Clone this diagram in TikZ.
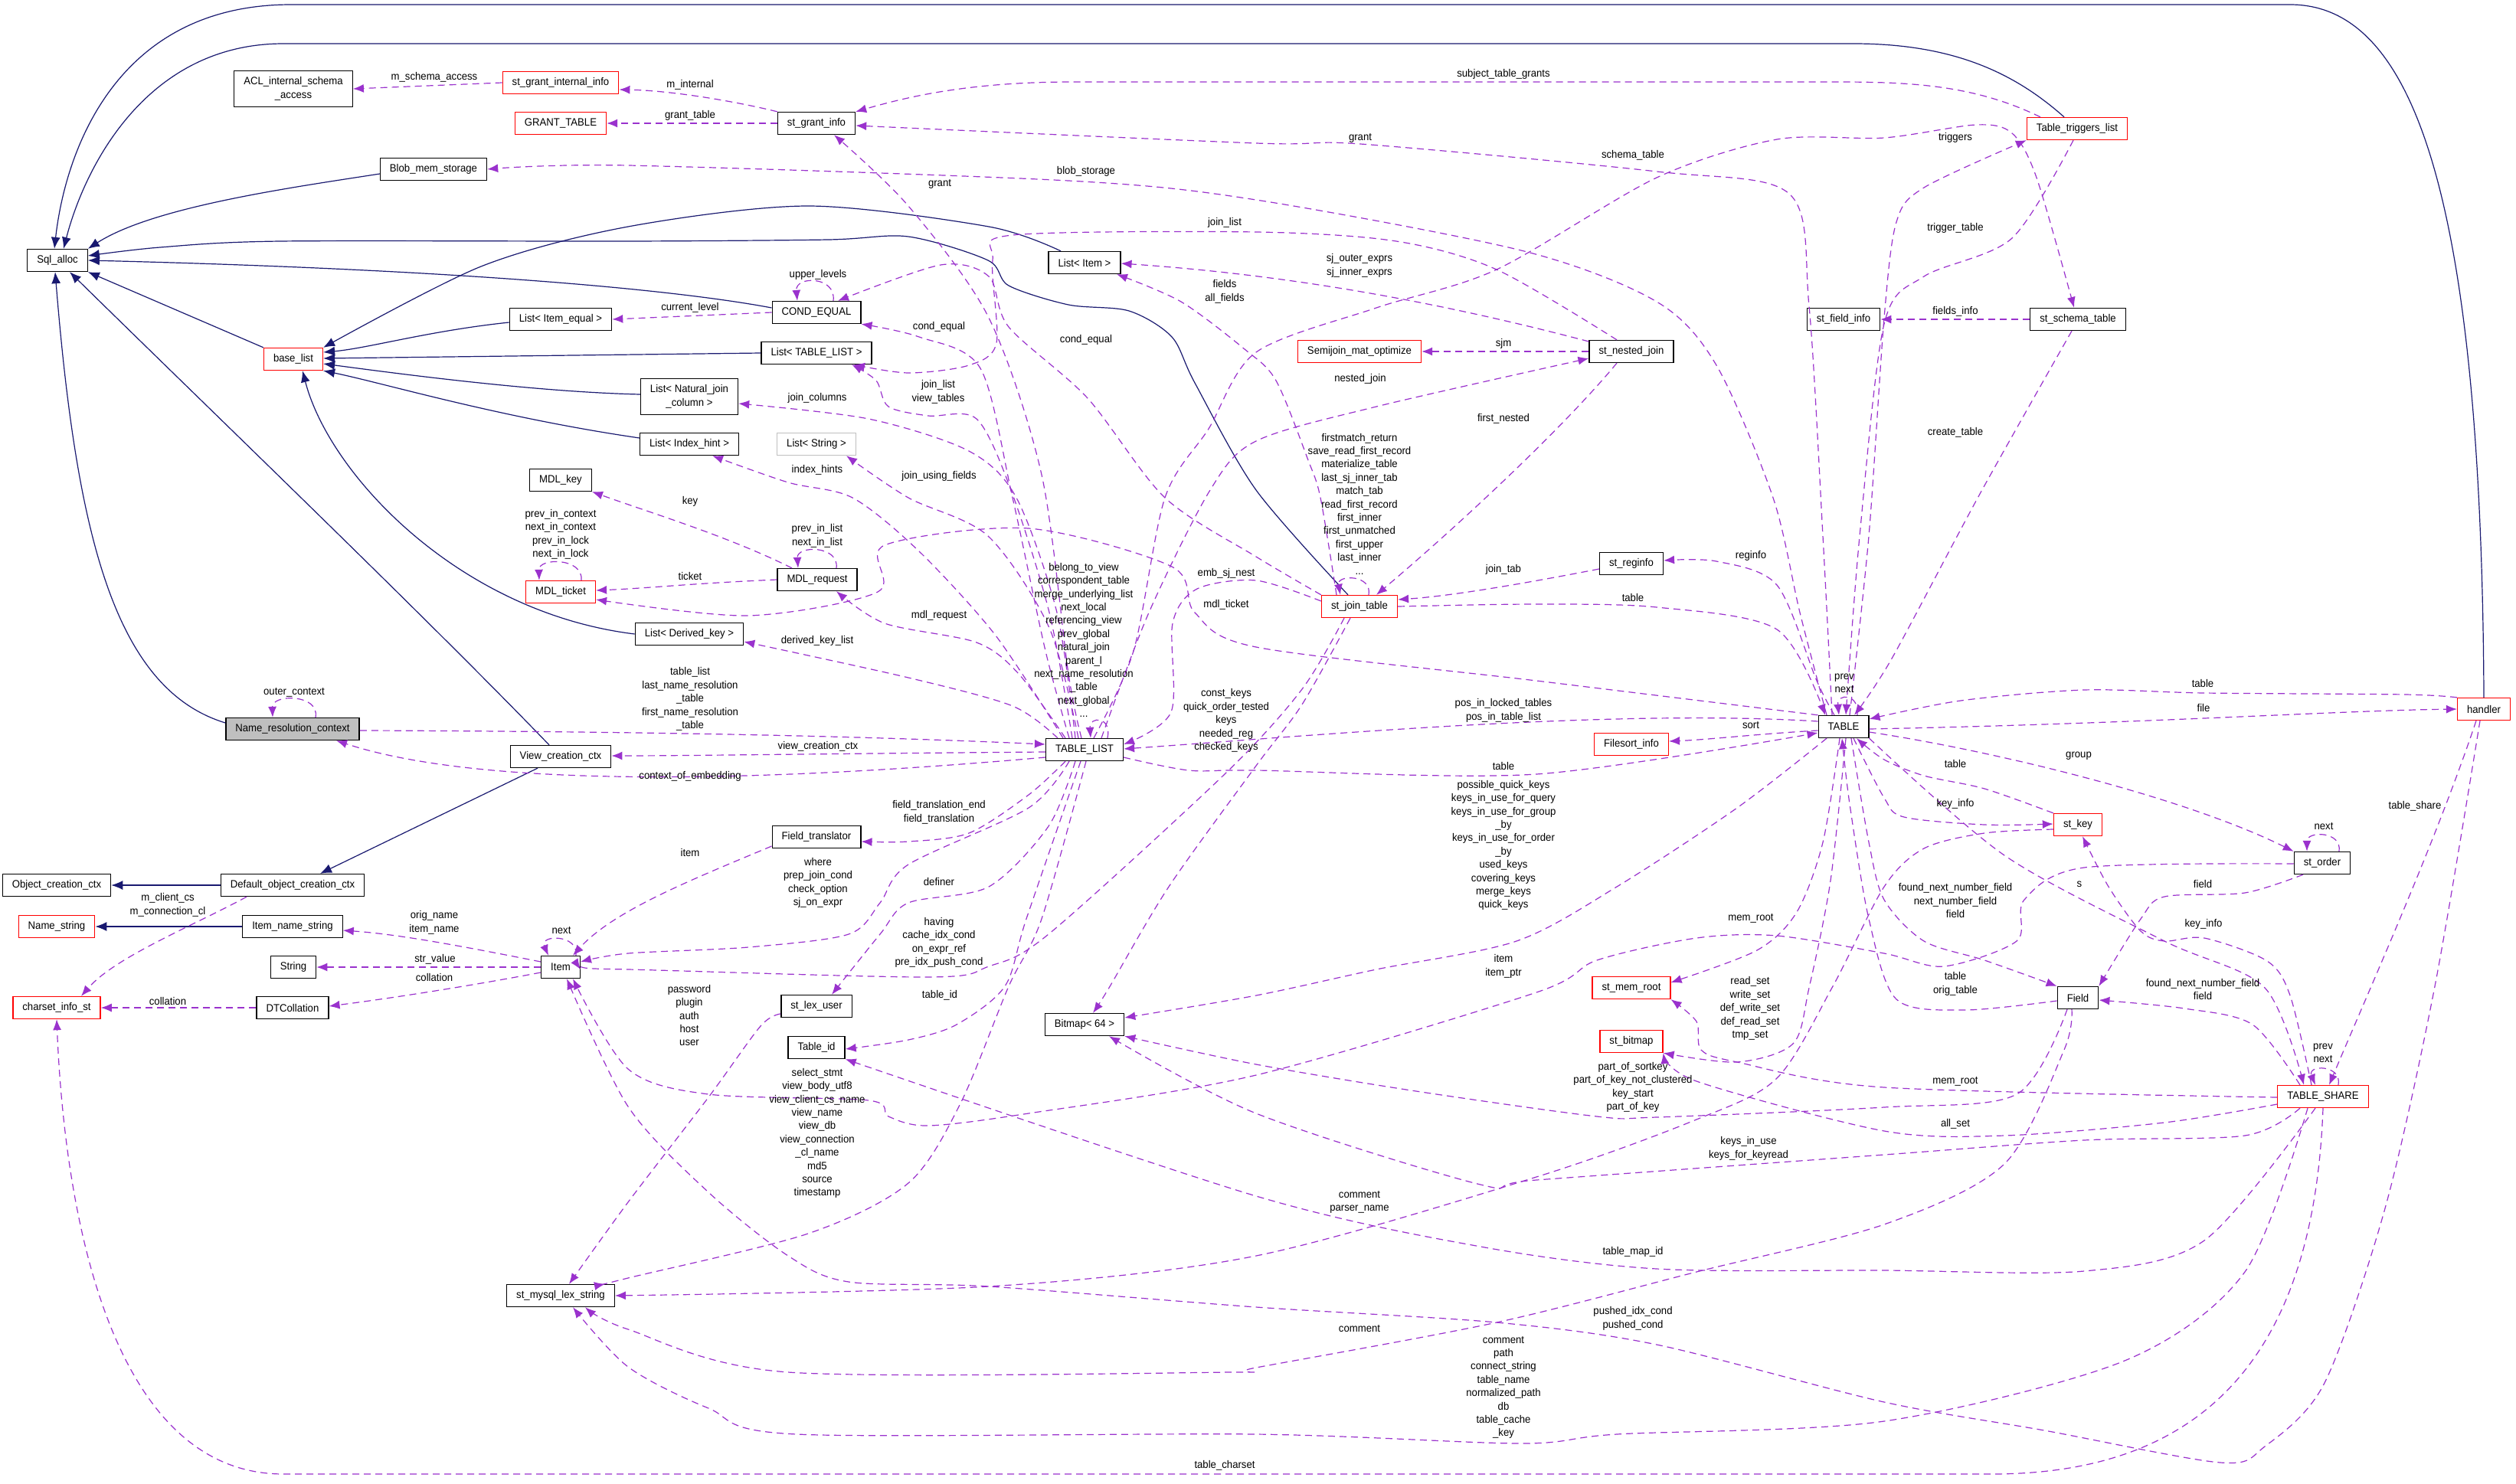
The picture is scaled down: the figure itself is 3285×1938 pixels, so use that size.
\documentclass[tikz,border=0pt]{standalone}
\usepackage{fontspec}
\setmainfont{Liberation Sans}[FakeStretch=0.94]
\usetikzlibrary{arrows.meta}
\definecolor{dxnavy}{HTML}{191970}
\definecolor{dxpurple}{HTML}{9A32CD}
\definecolor{dxred}{HTML}{FF0000}
\definecolor{dxgrey}{HTML}{BFBFBF}
\newcommand{\dxfont}{\fontsize{14}{17.4}\selectfont}

\begin{document}
\begin{tikzpicture}[
    x=1pt, y=-1pt,
    every node/.style={font=\dxfont},
    cls/.style={draw=black, line width=1.3pt, fill=white, inner xsep=12.5pt,
                inner ysep=8pt, minimum height=29pt, align=center},
    redcls/.style={cls, draw=dxred},
    dimcls/.style={cls, draw=dxgrey},
    focus/.style={cls, fill=dxgrey},
    inherit/.style={draw=dxnavy, line width=1.2pt,
                    -{Latex[length=15pt,width=12pt]}},
    member/.style={draw=dxpurple, line width=1.2pt, dash pattern=on 9pt off 6pt,
                   -{Latex[length=14pt,width=11pt]}},
    edgelbl/.style={inner sep=0pt, align=center, text=black},
    ]

\path[use as bounding box, fill=white] (0,0) rectangle (3285,1938);

% ====================================================================
% Classes
% ====================================================================
\node[cls]    (sqlalloc)    at (75,340)    {Sql\_alloc};
\node[cls]    (acl)         at (383,116)   {ACL\_internal\_schema\\\_access};
\node[redcls] (grantint)    at (732,108)   {st\_grant\_internal\_info};
\node[redcls] (granttable)  at (732,161)   {GRANT\_TABLE};
\node[cls]    (blob)        at (566,221)   {Blob\_mem\_storage};
\node[cls]    (grantinfo)   at (1066,161)  {st\_grant\_info};
\node[cls]    (listitemeq)  at (732,417)   {List< Item\_equal >};
\node[redcls] (baselist)    at (383,469)   {base\_list};
\node[cls]    (mdlkey)      at (732,627)   {MDL\_key};
\node[cls]    (listitem)    at (1416,343)  {List< Item >};
\node[cls]    (condequal)   at (1066,408)  {COND\_EQUAL};
\node[cls]    (listtl)      at (1066,461)  {List< TABLE\_LIST >};
\node[cls]    (listnjc)     at (900,518)   {List< Natural\_join\\\_column >};
\node[cls]    (listih)      at (900,580)   {List< Index\_hint >};
\node[dimcls] (liststr)     at (1066,580)  {List< String >};
\node[redcls] (semijoin)    at (1775,459)  {Semijoin\_mat\_optimize};
\node[cls]    (nestedjoin)  at (2130,459)  {st\_nested\_join};
\node[cls]    (fieldinfo)   at (2407,417)  {st\_field\_info};
\node[redcls] (tabletrig)   at (2712,168)  {Table\_triggers\_list};
\node[cls]    (schematable) at (2713,417)  {st\_schema\_table};
\node[redcls] (mdlticket)   at (732,773)   {MDL\_ticket};
\node[focus]  (nrc)         at (382,952)   {Name\_resolution\_context};
\node[cls]    (viewctx)     at (732,988)   {View\_creation\_ctx};
\node[cls]    (objctx)      at (74,1156)   {Object\_creation\_ctx};
\node[cls]    (defctx)      at (382,1156)  {Default\_object\_creation\_ctx};
\node[redcls] (namestr)     at (74,1210)   {Name\_string};
\node[cls]    (itemname)    at (382,1210)  {Item\_name\_string};
\node[cls]    (string)      at (383,1263)  {String};
\node[cls]    (item)        at (732,1263)  {Item};
\node[cls]    (mdlreq)      at (1067,757)  {MDL\_request};
\node[cls]    (listdk)      at (900,828)   {List< Derived\_key >};
\node[cls]    (tablelist)   at (1416,979)  {TABLE\_LIST};
\node[cls]    (fieldtr)     at (1066,1093) {Field\_translator};
\node[redcls] (jointab)     at (1775,792)  {st\_join\_table};
\node[cls]    (reginfo)     at (2130,736)  {st\_reginfo};
\node[cls]    (table)       at (2407,949)  {TABLE};
\node[redcls] (filesort)    at (2130,972)  {Filesort\_info};
\node[redcls] (memroot)     at (2130,1290) {st\_mem\_root};
\node[redcls] (handler)     at (3243,926)  {handler};
\node[redcls] (key)         at (2713,1077) {st\_key};
\node[cls]    (order)       at (3032,1127) {st\_order};
\node[redcls] (charset)     at (74,1316)   {charset\_info\_st};
\node[cls]    (dtcoll)      at (382,1316)  {DTCollation};
\node[cls]    (lexstr)      at (732,1692)  {st\_mysql\_lex\_string};
\node[cls]    (lexuser)     at (1066,1314) {st\_lex\_user};
\node[cls]    (tableid)     at (1066,1368) {Table\_id};
\node[cls]    (bitmap)      at (1416,1338) {Bitmap< 64 >};
\node[redcls] (stbitmap)    at (2130,1360) {st\_bitmap};
\node[cls]    (field)       at (2713,1303) {Field};
\node[redcls] (tableshare)  at (3033,1432) {TABLE\_SHARE};

% ====================================================================
% Inheritance (solid navy)
% ====================================================================
\draw[inherit] (handler.north) .. controls (3240,250) and (3150,6) .. (2990,6)
  -- (380,6) .. controls (150,6) and (85,200) .. ([xshift=-4pt]sqlalloc.north);
\draw[inherit] ([xshift=-17pt]tabletrig.north) .. controls (2630,95) and (2550,57) .. (2420,57)
  -- (370,57) .. controls (190,57) and (110,220) .. ([xshift=8pt]sqlalloc.north);
\draw[inherit] ([yshift=-6pt]blob.west) .. controls (380,245) and (200,270) .. (sqlalloc.north east);
\draw[inherit] plot[smooth] coordinates {([xshift=-15pt]jointab.north) (1640,640) (1560,500)
  (1530,440) (1474,406) (1395,398) (1317,373) (1290,340) (1186,309) (1081,313) (820,315)
  (366,315) (209,323) ([yshift=6pt]sqlalloc.east)};
\draw[inherit] ([yshift=6pt]condequal.west) .. controls (880,378) and (600,352) .. (sqlalloc.east);
\draw[inherit] (baselist.north west) -- (sqlalloc.south east);
\draw[inherit] ([xshift=-15pt]viewctx.north) .. controls (560,810) and (300,560) .. ([xshift=16pt]sqlalloc.south);
\draw[inherit] ([yshift=8pt]nrc.west) .. controls (150,900) and (100,700) .. ([xshift=-3pt]sqlalloc.south);

\draw[inherit] ([yshift=-4pt]listitemeq.west) .. controls (560,432) and (480,455) .. ([yshift=9pt]baselist.east);
\draw[inherit] (listtl.west) -- ([yshift=1pt]baselist.east);
\draw[inherit] ([yshift=3pt]listnjc.west) .. controls (700,512) and (520,488) .. ([yshift=-6pt]baselist.east);
\draw[inherit] ([yshift=8pt]listih.west) .. controls (650,545) and (500,500) .. (baselist.south east);
\draw[inherit] plot[smooth] coordinates {([xshift=-31pt]listitem.north) (1291,296) (1055,269)
  (820,296) (628,348) (baselist.north east)};
\draw[inherit] (listdk.west) .. controls (600,800) and (430,620) .. ([xshift=12pt]baselist.south);

\draw[inherit] (defctx.west) -- (objctx.east);
\draw[inherit] ([xshift=-30pt]viewctx.south) -- ([xshift=36pt]defctx.north);
\draw[inherit] (itemname.west) -- (namestr.east);

% ====================================================================
% Members (dashed purple) -- top rows
% ====================================================================
\draw[member] (grantint.west) -- (acl.east);
\draw[member] (grantinfo.north west) .. controls (950,130) and (870,118) .. ([yshift=-9pt]grantint.east);
\draw[member] (grantinfo.west) -- (granttable.east);
\draw[member] ([xshift=-48pt]tabletrig.north) .. controls (2580,112) and (2500,107) .. (2400,107)
  -- (1400,107) .. controls (1260,107) and (1180,128) .. (grantinfo.north east);
\draw[member] plot[smooth] coordinates {([xshift=-15pt]table.north) (2380,700) (2362,400)
  (2336,253) (2163,224) (1776,188) (1640,187) ([yshift=-3pt]grantinfo.east)};
\draw[member] plot[smooth] coordinates {([xshift=-4pt]tablelist.north) (1395,880) (1360,620)
  (1291,415) (1186,269) ([xshift=23pt]grantinfo.south)};
\draw[member] plot[smooth] coordinates {([xshift=-22pt]table.north) (2350,800) (2315,650)
  (2241,477) (2163,394) (1990,328) (1640,261) (1395,236) (820,216) (blob.east)};
\draw[member] plot[smooth] coordinates {([xshift=12pt]tablelist.north) (1480,850) (1521,650)
  (1578,560) (1640,460) (1797,402) (1954,352) (2163,232) (2320,182) (2460,180) (2580,163)
  (2627,174) (2659,232) ([xshift=-5pt]schematable.north)};
\draw[member] plot[smooth] coordinates {([xshift=8pt]table.north) (2440,700) (2460,415)
  (2476,290) (2512,245) (tabletrig.south west)};
\draw[member] plot[smooth] coordinates {([xshift=-5pt]tabletrig.south) (2627,311) (2512,361)
  (2460,423) (2428,700) ([xshift=3pt]table.north)};
\draw[member] (schematable.west) -- (fieldinfo.east);
\draw[member] plot[smooth] coordinates {([xshift=-8pt]schematable.south) (2585,645) (2470,860)
  ([xshift=14pt]table.north)};

% COND_EQUAL, nested joins, join tabs
\draw[member] (condequal.west) -- (listitemeq.east);
\draw[member] ([xshift=22pt]condequal.north) .. controls (1092,360) and (1038,360) .. ([xshift=-25pt]condequal.north);
\draw[member] plot[smooth] coordinates {([xshift=-20pt]tablelist.north) (1365,850) (1322,650)
  (1280,481) (1200,440) (condequal.south east)};
\draw[member] plot[smooth] coordinates {(jointab.north west) (1640,727) (1521,650) (1420,520)
  (1317,427) (1291,361) (1228,346) ([xshift=28pt]condequal.north)};
\draw[member] plot[smooth] coordinates {([xshift=-19pt]nestedjoin.north) (1954,352) (1823,315)
  (1640,303) (1322,307) (1296,340) (1301,448) (1265,477) (1186,487) ([xshift=49pt]listtl.south)};
\draw[member] ([yshift=13pt]nestedjoin.west) .. controls (1900,400) and (1700,360) .. ([yshift=-1pt]listitem.east);
\draw[member] plot[smooth] coordinates {([xshift=-30pt]jointab.north) (1724,650) (1708,601)
  (1666,497) (1625,456) (1542,394) ([xshift=42pt]listitem.south)};
\draw[member] (nestedjoin.west) -- (semijoin.east);
\draw[member] plot[smooth] coordinates {([xshift=22pt]tablelist.north) (1500,800) (1580,640)
  (1640,576) (1797,531) ([yshift=-9pt]nestedjoin.west)};
\draw[member] ([xshift=-19pt]nestedjoin.south) .. controls (2040,560) and (1900,690) .. ([xshift=22pt]jointab.north);
\draw[member] ([xshift=12pt]jointab.north) .. controls (1792,750) and (1745,750) .. ([xshift=-25pt]jointab.north);
\draw[member] ([yshift=-7pt]reginfo.west) .. controls (2000,760) and (1900,778) .. ([yshift=9pt]jointab.east);
\draw[member] plot[smooth] coordinates {(jointab.east) (2006,789) (2163,793) (2320,822)
  ([xshift=-24pt]table.north)};
\draw[member] plot[smooth] coordinates {([xshift=-12pt]table.north) (2372,889) (2320,764)
  (2241,733) ([yshift=4pt]reginfo.east)};
\draw[member] ([xshift=18pt]table.north) .. controls (2428,905) and (2398,905) .. ([xshift=-6pt]table.north);
\draw[member] ([yshift=-5pt]table.west) .. controls (2300,958) and (2230,966) .. ([yshift=4pt]filesort.east);
\draw[member] ([yshift=7pt]table.west) .. controls (2100,925) and (1700,962) .. ([yshift=1pt]tablelist.east);
\draw[member] plot[smooth] coordinates {([yshift=-10pt]tablelist.east) (1552,1006) (1640,1006)
  (2006,1011) ([yshift=-8pt]table.west)};

% MDL and TABLE_LIST members
\draw[member] ([xshift=-33pt]mdlreq.north) .. controls (950,700) and (850,670) .. (mdlkey.south east);
\draw[member] ([xshift=25pt]mdlreq.north) .. controls (1096,712) and (1040,712) .. ([xshift=-25pt]mdlreq.north);
\draw[member] (mdlreq.west) .. controls (900,762) and (850,768) .. ([yshift=2pt]mdlticket.east);
\draw[member] plot[smooth] coordinates {(table.north west) (2006,889) (1640,845) (1560,800)
  (1530,740) (1343,690) (1155,712) (1146,773) (977,804) ([yshift=-10pt]mdlticket.east)};
\draw[member] plot[smooth] coordinates {([yshift=7pt]jointab.west) (1640,758) (1563,769)
  (1531,814) (1529,930) ([yshift=7pt]tablelist.east)};
\draw[member] plot[smooth] coordinates {([xshift=-25pt]tablelist.north) (1330,880) (1275,839)
  (1155,814) ([xshift=25pt]mdlreq.south)};
\draw[member] ([xshift=27pt]mdlticket.north) .. controls (762,728) and (703,728) .. ([xshift=-28pt]mdlticket.north);
\draw[member] plot[smooth] coordinates {([xshift=-35pt]tablelist.north) (1322,922) (1186,885)
  ([yshift=-10pt]listdk.east)};
\draw[member] plot[smooth] coordinates {([xshift=-12pt]tablelist.north) (1380,800) (1327,650)
  (1265,589) (1134,547) ([yshift=-9pt]listnjc.east)};
\draw[member] plot[smooth] coordinates {([xshift=-28pt]tablelist.north) (1300,830) (1200,720)
  (1113,650) (1029,630) ([xshift=30pt]listih.south)};
\draw[member] plot[smooth] coordinates {([xshift=-8pt]tablelist.north) (1370,820) (1290,700)
  (1186,650) ([xshift=39pt]liststr.south)};
\draw[member] plot[smooth] coordinates {([xshift=-16pt]tablelist.north) (1370,800) (1320,640)
  (1275,547) (1212,543) (1160,531) (1144,497) ([xshift=46pt]listtl.south)};
\draw[member] ([xshift=30pt]tablelist.north) .. controls (1452,935) and (1422,935) .. ([xshift=8pt]tablelist.north);
\draw[member] ([yshift=-2pt]nrc.east) .. controls (800,955) and (1100,960) .. ([yshift=7pt]tablelist.west);
\draw[member] ([yshift=-3pt]tablelist.west) .. controls (1100,984) and (900,987) .. ([yshift=1pt]viewctx.east);
\draw[member] ([yshift=-10pt]tablelist.west) .. controls (900,1030) and (600,1020) .. ([xshift=57pt]nrc.south);
\draw[member] ([xshift=30pt]nrc.north) .. controls (418,906) and (355,906) .. ([xshift=-26pt]nrc.north);
\draw[member] plot[smooth] coordinates {([xshift=-25pt]tablelist.south) (1343,1038) (1265,1088)
  (1186,1099) ([yshift=-6pt]fieldtr.east)};
\draw[member] ([yshift=-12pt]fieldtr.west) .. controls (900,1150) and (800,1190) .. ([xshift=16pt]item.north);
\draw[member] plot[smooth] coordinates {([xshift=-20pt]tablelist.south) (1343,1055) (1186,1129)
  (1149,1179) (1108,1220) (977,1237) (820,1245) ([yshift=7pt]item.east)};
\draw[member] plot[smooth] coordinates {([xshift=-12pt]tablelist.south) (1369,1079) (1291,1158)
  (1186,1179) (1149,1220) ([xshift=20pt]lexuser.north)};
\draw[member] plot[smooth] coordinates {([xshift=-20pt]jointab.south) (1700,900) (1600,1010)
  (1369,1220) (1291,1262) (1212,1276) (820,1266) ([yshift=-3pt]item.east)};

% Item and the lower left
\draw[member] ([xshift=20pt]item.north) .. controls (756,1220) and (704,1220) .. ([xshift=-16pt]item.north);
\draw[member] ([yshift=7pt]item.west) .. controls (600,1235) and (520,1220) .. ([yshift=-5pt]itemname.east);
\draw[member] (item.west) -- (string.east);
\draw[member] ([yshift=-7pt]item.west) .. controls (600,1290) and (500,1305) .. ([yshift=2pt]dtcoll.east);
\draw[member] (dtcoll.west) -- (charset.east);
\draw[member] ([xshift=-60pt]defctx.south) .. controls (250,1210) and (150,1250) .. ([xshift=32pt]charset.north);
\draw[member] (tableshare.south) .. controls (3020,1800) and (2850,1925) .. (2600,1925)
  -- (370,1925) .. controls (150,1925) and (85,1600) .. (charset.south);
\draw[member] plot[smooth] coordinates {([yshift=-10pt]lexuser.west) (993,1340) (925,1433)
  (820,1570) ([xshift=11pt]lexstr.north)};
\draw[member] plot[smooth] coordinates {([xshift=-5pt]tablelist.south) (1340,1200) (1312,1288)
  (1249,1338) (1186,1358) ([yshift=-2pt]tableid.east)};
\draw[member] plot[smooth] coordinates {([xshift=2pt]tablelist.south) (1360,1200) (1317,1288)
  (1254,1441) (1186,1545) (1055,1611) (820,1669) ([xshift=58pt]lexstr.north)};

% Bitmaps, TABLE lower part
\draw[member] plot[smooth] coordinates {([xshift=-12pt]jointab.south) (1700,920) (1640,1000)
  (1526,1158) (1448,1290) ([xshift=11pt]bitmap.north)};
\draw[member] plot[smooth] coordinates {([xshift=-22pt]table.south) (2268,1055) (2111,1158)
  (1980,1229) (1797,1266) (1640,1300) ([yshift=9pt]bitmap.east)};
\draw[member] plot[smooth] coordinates {([yshift=-1pt]order.west) (2721,1133) (2643,1175)
  (2633,1229) (2538,1262) (2460,1245) (2320,1222) (2215,1225) (2085,1254) (2006,1296)
  (1640,1404) (1343,1454) (1212,1470) (1160,1458) (1134,1437) (925,1429) (820,1396)
  ([xshift=16pt]item.south)};
\draw[member] plot[smooth] coordinates {([xshift=-5pt]table.south) (2380,1100) (2346,1191)
  (2294,1241) ([yshift=7pt]memroot.east)};
\draw[member] plot[smooth] coordinates {([xshift=3pt]table.south) (2390,1150) (2362,1290)
  (2341,1363) (2268,1387) (stbitmap.south east)};
\draw[member] plot[smooth] coordinates {([xshift=-14pt]field.south) (2633,1429) (2460,1446)
  (2163,1459) (2085,1458) (1849,1425) (1640,1390) (bitmap.south east)};
\draw[member] plot[smooth] coordinates {([xshift=-30pt]tableshare.south) (2931,1483) (2721,1489)
  (2460,1508) (2006,1541) (1933,1547) (1640,1454) ([xshift=32pt]bitmap.south)};
\draw[member] plot[smooth] coordinates {([yshift=-6pt]key.west) (2591,1088) (2512,1108)
  (2460,1158) (2393,1288) (2320,1408) (2215,1462) (2006,1537) (1640,1640) (1291,1680)
  (lexstr.east)};
\draw[member] plot[smooth] coordinates {([xshift=-10pt]tableshare.south) (2878,1620) (2721,1660)
  (2460,1659) (2163,1657) (1933,1628) (1640,1562) (tableid.south east)};
\draw[member] plot[smooth] coordinates {([xshift=-5pt]handler.south) (3179,1288) (3114,1578)
  (3035,1806) (2957,1889) (2899,1910) (2669,1868) (2460,1831) (2163,1756) (1954,1727)
  (1640,1707) (1291,1680) (1108,1674) (1029,1640) (925,1557) (820,1445) ([xshift=8pt]item.south)};
\draw[member] plot[smooth] coordinates {([xshift=-8pt]field.south) (2695,1371) (2617,1520)
  (2460,1599) (2215,1661) (1954,1727) (1640,1786) (1605,1792) (1029,1792) (820,1736)
  ([xshift=32pt]lexstr.south)};
\draw[member] plot[smooth] coordinates {([xshift=-20pt]tableshare.south) (2931,1661) (2774,1777)
  (2460,1856) (2111,1873) (1985,1885) (1640,1873) (1040,1873) (925,1839) (820,1785)
  ([xshift=16pt]lexstr.south)};
\draw[member] plot[smooth] coordinates {([yshift=-1pt]tableshare.west) (2460,1420) (2268,1387)
  (2221,1371) (2215,1334) (memroot.south east)};
\draw[member] plot[smooth] coordinates {([yshift=-10pt]tableshare.west) (2826,1466) (2617,1483)
  (2460,1477) (2215,1412) (stbitmap.south east)};

% Right side: handler, keys, order, fields, share
\draw[member] plot[smooth] coordinates {(handler.north west) (3140,907) (2878,905) (2721,901)
  (2560,915) ([yshift=10pt]table.east)};
\draw[member] ([yshift=-3pt]table.east) .. controls (2800,945) and (3050,928) .. (handler.west);
\draw[member] ([yshift=-7pt]table.east) .. controls (2600,980) and (2850,1040) .. (order.north west);
\draw[member] plot[smooth] coordinates {(key.north west) (2591,1030) (2512,1013) (2460,992)
  ([xshift=17pt]table.south)};
\draw[member] plot[smooth] coordinates {([xshift=13pt]table.south) (2460,1042) (2486,1067)
  (2591,1077) ([yshift=1pt]key.west)};
\draw[member] ([xshift=22pt]order.north) .. controls (3058,1085) and (3012,1085) .. ([xshift=-20pt]order.north);
\draw[member] plot[smooth] coordinates {(table.south east) (2617,1117) (2826,1229) (2957,1290)
  ([xshift=-25pt]tableshare.north)};
\draw[member] plot[smooth] coordinates {([xshift=-25pt]order.south) (2931,1166) (2826,1171)
  (2795,1200) (field.north east)};
\draw[member] plot[smooth] coordinates {([xshift=10pt]table.south) (2440,1100) (2460,1175)
  (2512,1229) (2591,1254) (field.north west)};
\draw[member] plot[smooth] coordinates {([xshift=-15pt]tableshare.north) (2990,1300) (2960,1255)
  (2878,1225) (2826,1229) (2795,1216) (2753,1158) ([xshift=6pt]key.south)};
\draw[member] plot[smooth] coordinates {([yshift=-4pt]field.west) (2565,1319) (2476,1305)
  (2440,1200) (2415,1050) ([xshift=-2pt]table.south)};
\draw[member] plot[smooth] coordinates {([xshift=-30pt]tableshare.north) (2941,1338) (2852,1317)
  ([yshift=-3pt]field.east)};
\draw[member] ([xshift=20pt]tableshare.north) .. controls (3058,1390) and (3012,1390) .. ([xshift=-10pt]tableshare.north);
\draw[member] ([xshift=-10pt]handler.south) .. controls (3180,1100) and (3090,1300) .. ([xshift=8pt]tableshare.north);

% ====================================================================
% Member labels
% ====================================================================
\node[edgelbl] (lb-mschema)    at (567,101)   {m\_schema\_access};
\node[edgelbl] (lb-minternal)  at (901,111)   {m\_internal};
\node[edgelbl] (lb-granttable) at (901,151)   {grant\_table};
\node[edgelbl] (lb-subjgrants) at (1963,97)   {subject\_table\_grants};
\node[edgelbl] (lb-grant1)     at (1776,180)  {grant};
\node[edgelbl] (lb-grant2)     at (1227,240)  {grant};
\node[edgelbl] (lb-blob)       at (1418,224)  {blob\_storage};
\node[edgelbl] (lb-schema)     at (2132,203)  {schema\_table};
\node[edgelbl] (lb-triggers)   at (2553,180)  {triggers};
\node[edgelbl] (lb-trigtable)  at (2553,298)  {trigger\_table};
\node[edgelbl] (lb-fieldsinfo) at (2553,407)  {fields\_info};
\node[edgelbl] (lb-create)     at (2553,565)  {create\_table};
\node[edgelbl] (lb-curlevel)   at (901,402)   {current\_level};
\node[edgelbl] (lb-upper)      at (1068,359)  {upper\_levels};
\node[edgelbl] (lb-condeq1)    at (1226,427)  {cond\_equal};
\node[edgelbl] (lb-condeq2)    at (1418,444)  {cond\_equal};
\node[edgelbl] (lb-joinlist1)  at (1599,291)  {join\_list};
\node[edgelbl] (lb-sjexprs)    at (1775,347)  {sj\_outer\_exprs\\sj\_inner\_exprs};
\node[edgelbl] (lb-fields)     at (1599,381)  {fields\\all\_fields};
\node[edgelbl] (lb-sjm)        at (1963,449)  {sjm};
\node[edgelbl] (lb-nested)     at (1776,495)  {nested\_join};
\node[edgelbl] (lb-firstnest)  at (1963,547)  {first\_nested};
\node[edgelbl] (lb-jtself)     at (1775,658)  {firstmatch\_return\\save\_read\_first\_record\\materialize\_table\\last\_sj\_inner\_tab\\match\_tab\\read\_first\_record\\first\_inner\\first\_unmatched\\first\_upper\\last\_inner\\...};
\node[edgelbl] (lb-jointab)    at (1963,744)  {join\_tab};
\node[edgelbl] (lb-table1)     at (2132,780)  {table};
\node[edgelbl] (lb-reginfo)    at (2286,726)  {reginfo};
\node[edgelbl] (lb-tprev)      at (2408,892)  {prev\\next};
\node[edgelbl] (lb-sort)       at (2286,947)  {sort};
\node[edgelbl] (lb-posin)      at (1963,928)  {pos\_in\_locked\_tables\\pos\_in\_table\_list};
\node[edgelbl] (lb-table2)     at (1963,1000) {table};
\node[edgelbl] (lb-key)        at (901,655)   {key};
\node[edgelbl] (lb-inlist)     at (1067,700)  {prev\_in\_list\\next\_in\_list};
\node[edgelbl] (lb-ticket)     at (901,752)   {ticket};
\node[edgelbl] (lb-mdlticket)  at (1601,790)  {mdl\_ticket};
\node[edgelbl] (lb-embsj)      at (1601,749)  {emb\_sj\_nest};
\node[edgelbl] (lb-mdlreq)     at (1226,804)  {mdl\_request};
\node[edgelbl] (lb-ticketself) at (732,698)   {prev\_in\_context\\next\_in\_context\\prev\_in\_lock\\next\_in\_lock};
\node[edgelbl] (lb-derived)    at (1067,837)  {derived\_key\_list};
\node[edgelbl] (lb-joincols)   at (1067,520)  {join\_columns};
\node[edgelbl] (lb-idxhints)   at (1067,614)  {index\_hints};
\node[edgelbl] (lb-usingf)     at (1226,622)  {join\_using\_fields};
\node[edgelbl] (lb-joinlist2)  at (1225,512)  {join\_list\\view\_tables};
\node[edgelbl] (lb-tlself)     at (1415,836)  {belong\_to\_view\\correspondent\_table\\merge\_underlying\_list\\next\_local\\referencing\_view\\prev\_global\\natural\_join\\parent\_l\\next\_name\_resolution\\\_table\\next\_global\\...};
\node[edgelbl] (lb-tablelist)  at (901,913)   {table\_list\\last\_name\_resolution\\\_table\\first\_name\_resolution\\\_table};
\node[edgelbl] (lb-viewctx)    at (1068,975)  {view\_creation\_ctx};
\node[edgelbl] (lb-ctxemb)     at (901,1014)  {context\_of\_embedding};
\node[edgelbl] (lb-outer)      at (384,904)   {outer\_context};
\node[edgelbl] (lb-fieldtr)    at (1226,1061) {field\_translation\_end\\field\_translation};
\node[edgelbl] (lb-item)       at (901,1113)  {item};
\node[edgelbl] (lb-where)      at (1068,1153) {where\\prep\_join\_cond\\check\_option\\sj\_on\_expr};
\node[edgelbl] (lb-definer)    at (1226,1151) {definer};
\node[edgelbl] (lb-having)     at (1226,1231) {having\\cache\_idx\_cond\\on\_expr\_ref\\pre\_idx\_push\_cond};
\node[edgelbl] (lb-next1)      at (733,1215)  {next};
\node[edgelbl] (lb-names)      at (567,1205)  {orig\_name\\item\_name};
\node[edgelbl] (lb-strval)     at (568,1253)  {str\_value};
\node[edgelbl] (lb-coll1)      at (567,1276)  {collation};
\node[edgelbl] (lb-coll2)      at (219,1307)  {collation};
\node[edgelbl] (lb-clientcs)   at (219,1182)  {m\_client\_cs\\m\_connection\_cl};
\node[edgelbl] (lb-charset)    at (1599,1914) {table\_charset};
\node[edgelbl] (lb-user)       at (900,1326)  {password\\plugin\\auth\\host\\user};
\node[edgelbl] (lb-tableid)    at (1227,1300) {table\_id};
\node[edgelbl] (lb-view)       at (1067,1480) {select\_stmt\\view\_body\_utf8\\view\_client\_cs\_name\\view\_name\\view\_db\\view\_connection\\\_cl\_name\\md5\\source\\timestamp};
\node[edgelbl] (lb-constkeys)  at (1601,941)  {const\_keys\\quick\_order\_tested\\keys\\needed\_reg\\checked\_keys};
\node[edgelbl] (lb-quickkeys)  at (1963,1104) {possible\_quick\_keys\\keys\_in\_use\_for\_query\\keys\_in\_use\_for\_group\\\_by\\keys\_in\_use\_for\_order\\\_by\\used\_keys\\covering\_keys\\merge\_keys\\quick\_keys};
\node[edgelbl] (lb-itemptr)    at (1963,1262) {item\\item\_ptr};
\node[edgelbl] (lb-memroot1)   at (2286,1199) {mem\_root};
\node[edgelbl] (lb-sets)       at (2285,1317) {read\_set\\write\_set\\def\_write\_set\\def\_read\_set\\tmp\_set};
\node[edgelbl] (lb-partkey)    at (2132,1420) {part\_of\_sortkey\\part\_of\_key\_not\_clustered\\key\_start\\part\_of\_key};
\node[edgelbl] (lb-keysinuse)  at (2283,1500) {keys\_in\_use\\keys\_for\_keyread};
\node[edgelbl] (lb-parser)     at (1775,1570) {comment\\parser\_name};
\node[edgelbl] (lb-mapid)      at (2132,1635) {table\_map\_id};
\node[edgelbl] (lb-pushed)     at (2132,1722) {pushed\_idx\_cond\\pushed\_cond};
\node[edgelbl] (lb-comment)    at (1775,1735) {comment};
\node[edgelbl] (lb-paths)      at (1963,1812) {comment\\path\\connect\_string\\table\_name\\normalized\_path\\db\\table\_cache\\\_key};
\node[edgelbl] (lb-memroot2)   at (2553,1412) {mem\_root};
\node[edgelbl] (lb-allset)     at (2553,1468) {all\_set};
\node[edgelbl] (lb-table3)     at (2876,892)  {table};
\node[edgelbl] (lb-file)       at (2877,924)  {file};
\node[edgelbl] (lb-group)      at (2714,987)  {group};
\node[edgelbl] (lb-table4)     at (2553,997)  {table};
\node[edgelbl] (lb-keyinfo1)   at (2553,1050) {key\_info};
\node[edgelbl] (lb-next2)      at (3034,1079) {next};
\node[edgelbl] (lb-s)          at (2715,1155) {s};
\node[edgelbl] (lb-field1)     at (2876,1154) {field};
\node[edgelbl] (lb-nextnum)    at (2553,1176) {found\_next\_number\_field\\next\_number\_field\\field};
\node[edgelbl] (lb-keyinfo2)   at (2877,1207) {key\_info};
\node[edgelbl] (lb-origtable)  at (2553,1285) {table\\orig\_table};
\node[edgelbl] (lb-field2)     at (2876,1292) {found\_next\_number\_field\\field};
\node[edgelbl] (lb-sprev)      at (3033,1375) {prev\\next};
\node[edgelbl] (lb-share)      at (3153,1053) {table\_share};

\end{tikzpicture}
\end{document}
